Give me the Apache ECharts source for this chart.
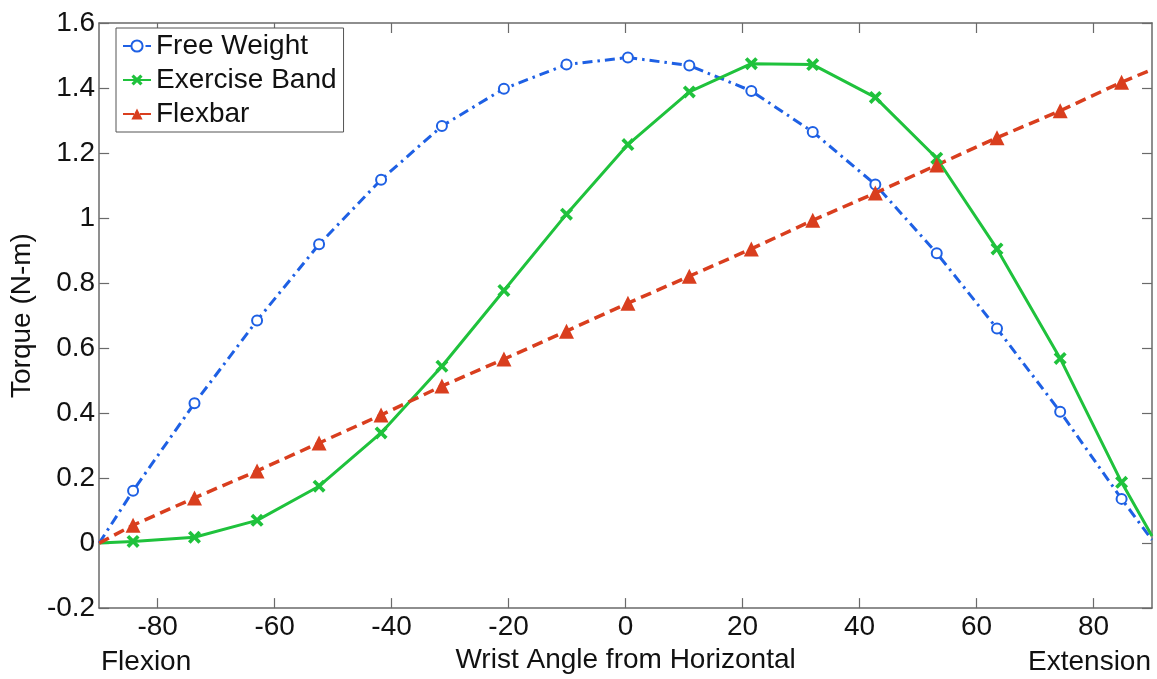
<!DOCTYPE html>
<html>
<head>
<meta charset="utf-8">
<script src="https://cdn.jsdelivr.net/npm/echarts@6/dist/echarts.min.js"></script>
<style>
html,body{margin:0;padding:0;background:#fff;}
#chart{width:1157px;height:679px;}
</style>
</head>
<body>
<div id="chart"></div>
<script>
// ---- data ----
const angles = [-90, -84.2, -73.7, -63.0, -52.4, -41.8, -31.4, -20.8, -10.1, 0.4, 10.9, 21.5, 32.0, 42.7, 53.2, 63.5, 74.3, 84.8, 90];
const freeWeight   = [0, 0.161, 0.430, 0.685, 0.919, 1.118, 1.283, 1.398, 1.472, 1.494, 1.469, 1.391, 1.265, 1.103, 0.892, 0.660, 0.404, 0.136, 0.01];
const exerciseBand = [0, 0.005, 0.018, 0.070, 0.175, 0.339, 0.544, 0.777, 1.012, 1.226, 1.388, 1.475, 1.472, 1.371, 1.184, 0.905, 0.568, 0.187, 0.022];
const flexbar      = [0, 0.055, 0.139, 0.222, 0.308, 0.394, 0.483, 0.566, 0.652, 0.738, 0.821, 0.905, 0.993, 1.077, 1.163, 1.247, 1.330, 1.418, 1.457];
const seriesNames = ['Free Weight', 'Exercise Band', 'Flexbar'];
const xTicks = [-80, -60, -40, -20, 0, 20, 40, 60, 80];
const xRange = [-90, 90];
const yRange = [-0.2, 1.6];
const yStep = 0.2;
const xTitle = 'Wrist Angle from Horizontal';
const yTitle = 'Torque (N-m)';
const leftNote = 'Flexion';
const rightNote = 'Extension';

// ---- chart ----
const FONT = '"Liberation Sans", Arial, Helvetica, sans-serif';
const FS = 28;
const AX = '#6a6a6a';
const pairs = vals => angles.map((a, i) => [a, vals[i]]);
const last = angles.length - 1;
const sizeFn = s => (v, p) => (p.dataIndex === 0 || p.dataIndex === last) ? 0 : s;
const xMark = 'path://M2,0 L5,3 L8,0 L10,2 L7,5 L10,8 L8,10 L5,7 L2,10 L0,8 L3,5 L0,2 Z';

const chart = echarts.init(document.getElementById('chart'), null, {renderer: 'canvas'});
const baseX = {
  type: 'value', min: xRange[0], max: xRange[1],
  axisLine: {show: true, onZero: false, lineStyle: {color: AX, width: 1.5}},
  axisTick: {show: true, inside: true, length: 10, customValues: xTicks, lineStyle: {color: AX, width: 1.2}},
  splitLine: {show: false}
};
const baseY = {
  type: 'value', min: yRange[0], max: yRange[1], interval: yStep,
  axisLine: {show: true, onZero: false, lineStyle: {color: AX, width: 1.5}},
  axisTick: {show: true, inside: true, length: 10, lineStyle: {color: AX, width: 1.2}},
  splitLine: {show: false}
};
const option = {
  backgroundColor: '#ffffff',
  animation: false,
  textStyle: {fontFamily: FONT},
  grid: {left: 96, right: 5, top: 23, bottom: 63, containLabel: false},
  legend: {
    orient: 'vertical', left: 116, top: 28,
    data: seriesNames,
    itemWidth: 28, itemHeight: 14, itemGap: 6,
    padding: [4, 7, 4, 6],
    backgroundColor: '#ffffff', borderColor: '#555', borderWidth: 1, borderRadius: 0,
    textStyle: {fontSize: FS, color: '#111', fontFamily: FONT}
  },
  xAxis: [
    Object.assign({}, baseX, {
      position: 'bottom',
      name: xTitle, nameLocation: 'middle', nameGap: 31,
      nameTextStyle: {fontSize: FS, color: '#111', fontFamily: FONT},
      axisLabel: {show: true, customValues: xTicks, fontSize: FS, color: '#111', margin: 5, fontFamily: FONT}
    }),
    Object.assign({}, baseX, {position: 'top', axisLabel: {show: false}})
  ],
  yAxis: [
    Object.assign({}, baseY, {
      position: 'left',
      name: yTitle, nameLocation: 'middle', nameGap: 60, nameRotate: 90,
      nameTextStyle: {fontSize: FS, color: '#111', fontFamily: FONT},
      axisLabel: {show: true, fontSize: FS, color: '#111', margin: 4, fontFamily: FONT,
        formatter: v => String(Math.round(v * 10) / 10)}
    }),
    Object.assign({}, baseY, {position: 'right', axisLabel: {show: false}})
  ],
  graphic: [
    {type: 'text', left: 101, top: 648, style: {text: leftNote, font: FS + 'px ' + FONT, fill: '#111'}},
    {type: 'text', right: 6, top: 648, style: {text: rightNote, font: FS + 'px ' + FONT, fill: '#111'}}
  ],
  series: [
    {
      name: seriesNames[0], type: 'line', data: pairs(freeWeight),
      showAllSymbol: true, symbol: 'emptyCircle', symbolSize: sizeFn(10),
      lineStyle: {color: '#1E60E4', width: 3, type: [10, 5, 2.5, 5], cap: 'butt'},
      itemStyle: {color: '#1E60E4', borderColor: '#1E60E4', borderWidth: 2.5}
    },
    {
      name: seriesNames[1], type: 'line', data: pairs(exerciseBand),
      showAllSymbol: true, symbol: xMark, symbolSize: sizeFn(13),
      lineStyle: {color: '#1FC23C', width: 3, type: 'solid'},
      itemStyle: {color: '#1FC23C'}
    },
    {
      name: seriesNames[2], type: 'line', data: pairs(flexbar),
      showAllSymbol: true, symbol: 'triangle', symbolSize: sizeFn(15),
      lineStyle: {color: '#D93E1E', width: 3.5, type: [11, 6], cap: 'butt'},
      itemStyle: {color: '#D93E1E'}
    }
  ]
};
chart.setOption(option);
</script>
</body>
</html>
